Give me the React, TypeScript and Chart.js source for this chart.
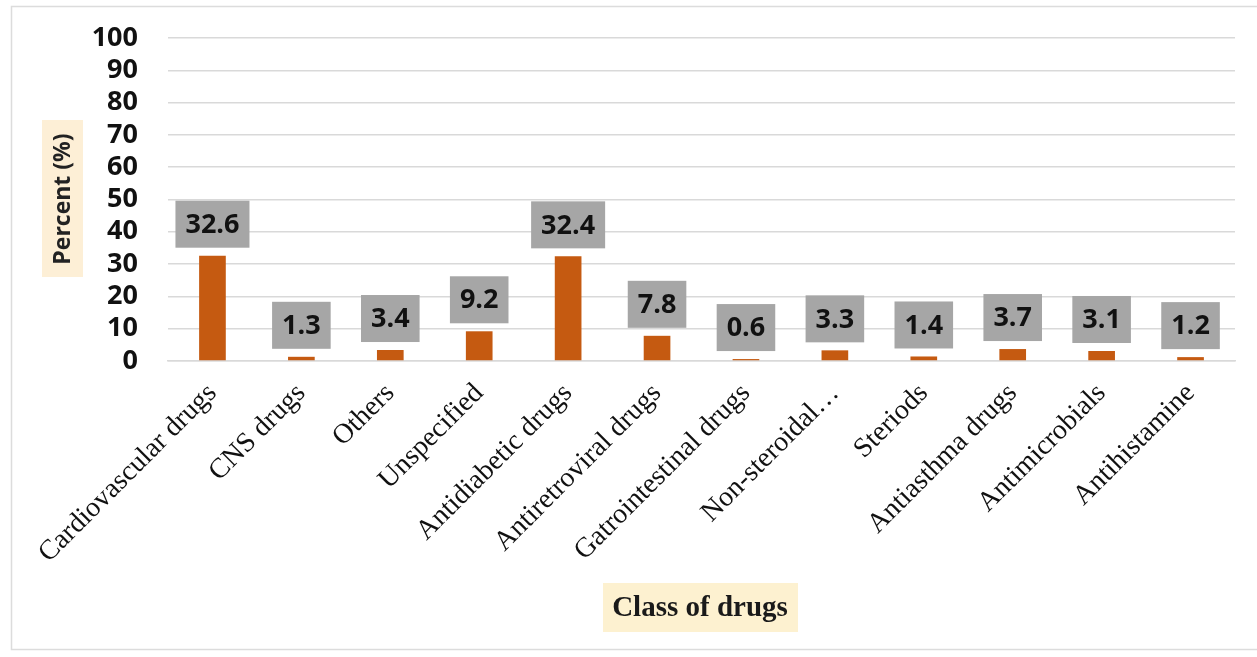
import React, { useEffect, useRef } from 'react';
import { Chart, registerables } from 'chart.js';

Chart.register(...registerables);

const categories = [
  'Cardiovascular drugs',
  'CNS drugs',
  'Others',
  'Unspecified',
  'Antidiabetic drugs',
  'Antiretroviral drugs',
  'Gatrointestinal drugs',
  'Non-steroidal…',
  'Steriods',
  'Antiasthma drugs',
  'Antimicrobials',
  'Antihistamine',
];
const percentValues = [32.6, 1.3, 3.4, 9.2, 32.4, 7.8, 0.6, 3.3, 1.4, 3.7, 3.1, 1.2];
const yMin = 0;
const yMax = 100;
const yStep = 10;
const yAxisTitle = 'Percent (%)';
const xAxisTitle = 'Class of drugs';

const W = 1257;
const H = 657;
const AREA_LEFT = 168;
const AREA_RIGHT = 1235;
const AREA_TOP = 38;
const AREA_BOTTOM = 361;

const decorPlugin = {
  id: 'decor',
  beforeDraw(chart: any) {
    const ctx = chart.ctx;
    ctx.save();
    ctx.fillStyle = '#ffffff';
    ctx.fillRect(0, 0, W, H);
    ctx.strokeStyle = '#dcdcdc';
    ctx.lineWidth = 1.5;
    ctx.strokeRect(11.5, 6.5, W + 10, 643);
    ctx.restore();
  },
  afterDatasetsDraw(chart: any) {
    const ctx = chart.ctx;
    const meta = chart.getDatasetMeta(0);
    ctx.save();
    ctx.font = 'bold 27px "Open Sans"';
    ctx.textAlign = 'center';
    ctx.textBaseline = 'middle';
    meta.data.forEach((bar: any, i: number) => {
      const text = percentValues[i].toFixed(1);
      const w = ctx.measureText(text).width + 20;
      const h = 47;
      const bottom = bar.y - 8;
      ctx.fillStyle = '#a6a6a6';
      ctx.fillRect(bar.x - w / 2, bottom - h, w, h);
      ctx.fillStyle = '#111111';
      ctx.fillText(text, bar.x, bottom - h / 2 + 1);
    });
    ctx.restore();
  },
  afterDraw(chart: any) {
    const ctx = chart.ctx;
    ctx.save();
    // Y axis title
    ctx.fillStyle = '#fdefd6';
    ctx.fillRect(42, 120, 41, 157);
    ctx.translate(63, 199);
    ctx.rotate(-Math.PI / 2);
    ctx.font = 'bold 23px "Open Sans"';
    ctx.textAlign = 'center';
    ctx.textBaseline = 'middle';
    ctx.fillStyle = '#222222';
    ctx.fillText(yAxisTitle, 0, 0);
    ctx.restore();

    ctx.save();
    ctx.fillStyle = '#fdf1d0';
    ctx.fillRect(603, 583, 195, 49);
    ctx.font = 'bold 29px "Liberation Serif"';
    ctx.textAlign = 'center';
    ctx.textBaseline = 'middle';
    ctx.fillStyle = '#1a1a1a';
    ctx.fillText(xAxisTitle, 700, 609);
    ctx.restore();
  },
};

export default function App() {
  const ref = useRef<HTMLCanvasElement | null>(null);

  useEffect(() => {
    document.body.style.margin = '0';
    const canvas = ref.current;
    if (!canvas) return;
    const chart = new Chart(canvas, {
      type: 'bar',
      data: {
        labels: categories,
        datasets: [
          {
            data: percentValues,
            backgroundColor: '#c55a11',
            borderWidth: 0,
            barPercentage: 0.3,
            categoryPercentage: 1,
          },
        ],
      },
      options: {
        responsive: false,
        animation: false,
        devicePixelRatio: 1,
        layout: { padding: { top: AREA_TOP, right: W - AREA_RIGHT, left: 0, bottom: 0 } },
        plugins: {
          legend: { display: false },
          tooltip: { enabled: false },
          title: { display: false },
        },
        scales: {
          x: {
            grid: { display: false },
            border: { display: true, color: '#d9d9d9', width: 1.5 },
            ticks: {
              autoSkip: false,
              minRotation: 45,
              maxRotation: 45,
              padding: 8,
              color: '#111111',
              font: { family: '"Liberation Serif"', size: 28 },
            },
            afterFit(scale: any) {
              scale.height = H - AREA_BOTTOM;
              scale.paddingLeft = 0;
              scale.paddingRight = 0;
            },
          },
          y: {
            min: yMin,
            max: yMax,
            ticks: {
              stepSize: yStep,
              autoSkip: false,
              padding: 30,
              color: '#111111',
              font: { family: '"Open Sans"', size: 27, weight: 'bold' },
            },
            grid: { color: '#d9d9d9', lineWidth: 1.5, drawTicks: false },
            border: { display: false },
            afterFit(scale: any) {
              scale.width = AREA_LEFT;
              scale.paddingTop = 0;
              scale.paddingBottom = 0;
            },
          },
        },
      },
      plugins: [decorPlugin],
    });
    return () => chart.destroy();
  }, []);

  return <canvas ref={ref} width={W} height={H} style={{ display: 'block' }} />;
}
